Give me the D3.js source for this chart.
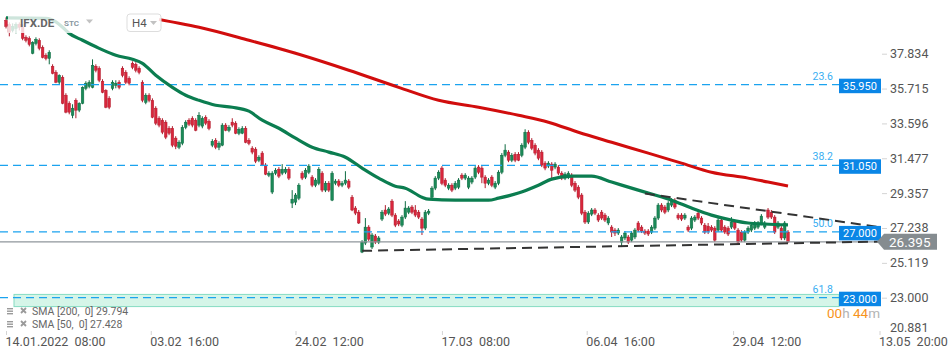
<!DOCTYPE html>
<html>
<head>
<meta charset="utf-8">
<script src="https://cdn.jsdelivr.net/npm/d3@7/dist/d3.min.js"></script>
<style>
  html, body { margin: 0; padding: 0; background: #fff; }
  svg { display: block; font-family: Roboto, "Noto Sans", sans-serif; }
</style>
</head>
<body>
<svg id="chart" width="949" height="358"></svg>
<script>
// IFX.DE H4 candles
const opens = [39.86,39.62,39.25,39.37,39.62,39.44,38.83,38.77,37.86,38.46,
  38.65,38.22,37.74,37.55,37.07,36.70,36.10,36.40,35.31,34.82,
  34.09,35.00,34.40,34.82,35.73,35.85,35.79,37.07,36.95,36.16,
  35.61,35.12,35.73,35.91,36.10,36.95,36.70,36.34,37.25,37.19,
  36.95,36.10,34.88,35.31,35.00,34.52,33.91,33.79,33.67,33.30,
  33.30,32.70,32.15,32.39,33.36,33.79,33.91,33.79,33.49,33.43,
  33.97,33.73,32.27,32.57,32.15,32.27,33.49,33.18,33.67,33.61,
  33.00,33.00,33.30,32.57,32.09,32.03,31.36,31.79,31.06,30.45,
  29.42,30.57,30.81,30.57,30.63,30.81,28.75,28.81,29.05,30.57,
  30.33,30.63,30.33,29.84,29.96,30.57,29.54,29.96,28.93,29.96,
  30.09,29.84,29.96,30.09,29.11,28.45,28.20,25.77,26.32,27.29,
  26.08,26.75,26.38,27.78,28.33,28.14,28.87,28.02,27.66,27.41,
  27.90,28.20,28.51,28.33,28.20,27.78,27.23,28.14,29.11,29.66,
  30.27,30.88,30.15,29.66,29.84,29.66,29.72,30.45,30.27,29.72,
  30.03,30.33,30.94,30.88,30.33,29.96,30.33,29.72,29.96,30.63,
  31.66,31.85,31.36,31.72,31.72,31.66,32.15,33.06,32.57,32.27,
  31.97,31.85,31.18,31.00,31.12,30.94,30.94,30.57,30.27,30.33,
  30.45,29.96,29.72,29.24,28.20,27.60,28.08,28.33,28.02,28.20,
  28.02,27.54,27.29,27.11,26.93,26.38,26.63,26.69,26.50,26.69,
  27.54,27.29,27.05,27.05,26.99,27.23,27.84,28.63,28.51,28.33,
  28.63,28.93,28.02,28.02,27.84,27.29,27.23,27.72,28.14,27.84,
  27.41,27.35,27.29,27.23,27.11,27.72,27.29,27.23,27.29,27.60,
  27.11,26.99,26.50,26.99,27.11,27.23,27.29,27.54,27.29,28.33,
  28.20,27.90,27.29,27.23,26.63,26.99];
const highs = [40.04,39.74,39.68,39.74,39.74,39.62,38.95,38.89,38.59,38.83,
  38.77,38.34,37.86,38.04,37.19,36.83,36.58,36.52,35.43,34.94,
  34.76,35.12,34.88,35.85,36.16,36.22,37.49,37.19,37.07,36.28,
  35.67,35.25,36.22,36.22,36.22,37.07,36.83,36.46,37.37,37.31,
  37.07,36.22,35.43,35.43,35.12,34.64,34.03,33.91,33.79,33.43,
  33.43,32.82,32.57,33.49,33.79,33.91,34.03,33.91,34.28,34.03,
  34.09,33.85,32.64,32.70,32.51,33.61,33.61,33.49,33.91,33.73,
  33.36,33.43,33.43,32.70,32.21,32.15,31.66,31.91,31.18,30.69,
  30.69,30.88,30.94,31.12,30.94,30.94,29.54,29.36,29.96,30.69,
  30.88,31.12,30.45,30.27,30.94,30.69,30.09,30.09,30.69,30.21,
  30.21,30.09,30.69,30.21,29.24,28.57,28.33,26.50,27.84,27.41,
  26.93,26.87,26.75,28.33,28.63,28.51,28.99,28.14,27.78,28.02,
  28.87,28.57,28.63,28.63,28.33,27.90,28.33,28.39,29.78,30.39,
  30.75,31.00,30.27,29.96,29.96,30.09,30.27,30.57,30.57,30.39,
  30.39,31.00,31.06,31.00,30.45,30.27,30.45,30.09,30.75,31.79,
  32.33,31.97,31.79,31.85,31.85,32.39,33.24,33.18,32.70,32.39,
  32.09,31.97,31.30,31.30,31.24,31.24,31.06,30.69,30.63,30.69,
  30.57,30.09,29.84,29.36,28.33,28.26,28.45,28.45,28.14,28.33,
  28.14,27.96,27.41,27.23,27.23,26.81,27.05,26.81,27.05,27.23,
  27.66,27.41,27.17,27.17,27.41,27.96,28.75,28.75,28.63,28.87,
  29.05,29.05,28.14,28.14,28.14,27.41,27.96,28.02,28.26,27.96,
  27.54,27.54,27.41,27.35,27.84,27.84,27.41,27.35,27.90,27.72,
  27.23,27.11,27.11,27.35,27.54,27.66,27.66,28.08,27.66,28.45,
  28.33,28.02,27.66,27.35,27.66,27.11];
const lows = [39.37,38.89,39.13,39.07,39.25,38.65,38.52,38.28,37.80,38.34,
  38.04,37.55,37.43,37.19,36.58,36.04,35.98,34.76,34.21,34.15,
  33.91,33.91,34.28,34.76,35.61,35.73,35.73,36.70,36.10,35.43,
  34.52,34.46,35.61,35.73,35.67,36.40,35.98,35.91,36.89,36.70,
  36.58,34.88,34.76,34.88,33.91,33.49,33.36,32.94,32.64,32.88,
  32.15,32.03,32.03,32.27,33.24,33.43,33.36,33.12,33.36,33.30,
  33.49,33.18,32.15,32.03,31.97,32.21,33.12,33.06,33.36,32.94,
  32.88,32.94,32.39,32.27,31.72,31.18,31.24,31.00,30.45,30.33,
  29.30,30.45,30.27,30.45,30.51,30.15,28.45,28.63,28.93,30.15,
  30.21,30.51,29.72,29.72,29.84,29.42,29.42,29.42,28.87,29.84,
  29.72,29.72,29.84,29.60,28.26,28.02,27.48,25.71,26.20,26.44,
  25.96,26.26,26.26,27.66,27.96,28.02,27.90,27.29,27.35,27.29,
  27.78,28.08,28.08,27.90,27.78,26.81,27.11,28.02,28.99,29.54,
  30.15,29.84,29.72,29.54,29.42,29.54,29.60,30.15,30.15,29.60,
  29.90,30.21,30.51,29.96,29.66,29.84,29.72,29.60,29.84,30.51,
  31.54,31.24,31.24,31.24,31.30,31.54,32.03,32.33,31.97,31.66,
  31.36,30.94,30.75,30.88,30.15,30.81,30.45,30.15,30.15,30.21,
  29.72,29.42,28.99,28.02,27.48,27.48,27.96,28.02,27.60,27.72,
  27.60,27.41,26.69,26.75,26.81,26.08,26.50,26.26,26.38,26.56,
  26.99,26.93,26.81,26.75,26.87,27.11,27.72,28.20,28.08,28.20,
  28.51,28.39,27.72,27.66,27.72,26.99,27.11,27.60,27.72,27.41,
  26.87,26.87,26.99,26.38,26.99,26.99,26.87,26.75,27.17,27.11,
  26.26,26.38,26.38,26.87,26.99,27.11,27.17,27.41,27.17,27.78,
  27.78,26.87,27.17,26.50,26.50,26.32];
const closes = [39.50,39.13,39.50,39.62,39.44,38.77,38.65,38.40,38.52,38.71,
  38.16,37.61,37.55,37.92,36.64,36.10,36.52,34.82,34.28,34.28,
  34.52,34.40,34.82,35.79,36.04,36.10,37.13,36.83,36.22,35.49,
  34.58,34.58,36.10,36.04,35.79,36.52,36.10,36.04,37.01,36.83,
  36.70,35.00,35.31,35.00,33.97,33.61,33.49,33.06,32.76,33.00,
  32.27,32.21,32.45,33.36,33.67,33.55,33.49,33.18,34.09,33.91,
  33.61,33.30,32.51,32.15,32.39,33.49,33.18,33.36,33.49,33.00,
  33.24,33.30,32.45,32.39,31.85,31.30,31.54,31.06,30.51,30.57,
  30.57,30.75,30.39,30.81,30.81,30.27,28.99,29.24,29.84,30.27,
  30.75,31.00,29.84,30.15,30.81,29.54,29.96,29.54,30.57,30.09,
  29.84,29.96,30.15,29.72,28.33,28.14,27.54,26.38,27.29,26.56,
  26.81,26.38,26.63,28.20,28.08,28.39,28.02,27.41,27.48,27.90,
  28.45,28.45,28.20,28.02,27.90,27.23,28.20,28.26,29.66,30.27,
  30.63,29.96,29.84,29.84,29.54,29.96,30.15,30.27,30.45,30.27,
  30.27,30.88,30.63,30.33,29.96,30.15,29.84,29.96,30.63,31.66,
  31.97,31.36,31.66,31.36,31.36,32.27,33.06,32.45,32.09,31.79,
  31.48,31.06,30.88,31.18,30.75,31.12,30.57,30.27,30.51,30.57,
  29.84,29.54,29.11,28.14,27.60,28.14,28.33,28.14,27.72,27.84,
  27.72,27.84,26.99,26.93,27.11,26.69,26.93,26.38,26.93,27.11,
  27.11,27.05,26.93,26.87,27.29,27.84,28.63,28.33,28.20,28.75,
  28.93,28.51,27.84,27.78,28.02,27.11,27.84,27.90,27.84,27.54,
  26.99,27.05,27.11,26.50,27.72,27.11,26.99,26.87,27.60,27.23,
  26.38,26.50,26.99,27.23,27.41,27.54,27.54,27.96,27.54,27.90,
  27.90,26.99,27.54,26.63,27.54,26.395];

// moving averages, sampled as [bar index, value]
const sma200 = [[46,39.92],[49,39.80],[58,39.44],[73,38.65],[88,37.80],[103,36.83],
  [118,35.79],[130,35.00],[142,34.58],[154,34.09],[163,33.67],[172,33.06],[182,32.45],
  [193,31.79],[203,31.18],[212,30.63],[223,30.27],[229,30.03],[235,29.794]];
const sma50 = [[0,40.01],[12,39.98],[15,39.77],[17,39.44],[19,39.07],[23,38.65],[28,38.16],
  [33,37.74],[38,37.49],[41,37.25],[45,36.52],[50,35.79],[54,35.31],[58,35.00],[63,34.70],
  [68,34.58],[73,34.34],[77,33.79],[82,33.30],[87,32.70],[92,32.15],[97,31.85],[102,31.54],
  [107,30.88],[112,30.27],[117,29.78],[120,29.66],[125,29.11],[127,28.99],[135,28.93],
  [145,28.93],[148,29.05],[154,29.36],[160,29.84],[164,30.21],[170,30.39],[176,30.39],
  [182,30.03],[188,29.66],[194,29.30],[200,28.93],[206,28.45],[212,28.02],[218,27.72],
  [223,27.54],[228,27.48],[235,27.428]];

const fibValues = [35.95, 31.05, 27.0, 23.0];
const fibLabels = ["23.6", "38.2", "50.0", "61.8"];
const lastPrice = 26.395;
const zone = [22.46, 23.2];
const trendLines = [
  [[192, 29.33], [262.6, 27.29]],
  [[107, 25.85], [262.6, 26.41]]
];
const yTicks = [20.881, 23.000, 25.119, 27.238, 29.357, 31.477, 33.596, 35.715, 37.834];
const xTickIdx = [0, 43.5, 87, 131, 174.5, 218.5, 262.5];
const xTickLabels = ["14.01.2022  08:00", "03.02  16:00", "24.02  12:00", "17.03  08:00",
  "06.04  16:00", "29.04  12:00", "13.05  20:00"];
const legendRows = ["SMA [200,  0] 29.794", "SMA [50,  0] 27.428"];

const svg = d3.select("#chart");
const x = d3.scaleLinear().domain([0, opens.length - 1]).range([6, 788]);
const y = d3.scaleLinear().domain([23, 37.834]).range([297.7, 53.7]);

const RED = "#d9263c", RED_D = "#b01c2d", GREEN = "#1b8a58", GREEN_D = "#0e6b42";

// support zone
svg.append("rect")
  .attr("x", 14).attr("width", 825)
  .attr("y", y(zone[1])).attr("height", y(zone[0]) - y(zone[1]))
  .attr("fill", "#d5f5e8").attr("stroke", "#86dcc2").attr("stroke-width", 1);

// candles
const candles = svg.append("g");
opens.forEach((o, i) => {
  const c = closes[i], up = c >= o;
  candles.append("line")
    .attr("x1", x(i)).attr("x2", x(i))
    .attr("y1", y(highs[i])).attr("y2", y(lows[i]))
    .attr("stroke", up ? GREEN_D : RED_D).attr("stroke-width", 1);
  const top = y(Math.max(o, c)), bot = y(Math.min(o, c));
  candles.append("rect")
    .attr("x", x(i) - 1.3).attr("width", 2.6)
    .attr("y", top).attr("height", Math.max(1, bot - top))
    .attr("fill", up ? GREEN : RED)
    .attr("stroke", up ? GREEN_D : RED_D).attr("stroke-width", 0.5);
});

// last price line
svg.append("line")
  .attr("x1", 0).attr("x2", 877)
  .attr("y1", y(lastPrice)).attr("y2", y(lastPrice))
  .attr("stroke", "#8f969b").attr("stroke-width", 1.2);

// fibonacci levels
fibValues.forEach((v, i) => {
  svg.append("line")
    .attr("x1", 0).attr("x2", 839)
    .attr("y1", y(v)).attr("y2", y(v))
    .attr("stroke", "#1ba3ef").attr("stroke-width", 1.3)
    .attr("stroke-dasharray", "8,5");
  svg.append("text")
    .attr("x", 833).attr("y", y(v) - 5)
    .attr("text-anchor", "end")
    .attr("font-size", 10.5).attr("fill", "#3aaef2")
    .text(fibLabels[i]);
});

// moving averages
const line = d3.line().x(d => x(d[0])).y(d => y(d[1])).curve(d3.curveMonotoneX);
svg.append("path").datum(sma200).attr("d", line)
  .attr("fill", "none").attr("stroke", "#d10d0d").attr("stroke-width", 3);
svg.append("path").datum(sma50).attr("d", line)
  .attr("fill", "none").attr("stroke", "#0b7d50").attr("stroke-width", 3.2);

// trend lines
trendLines.forEach(t => {
  svg.append("line")
    .attr("x1", x(t[0][0])).attr("y1", y(t[0][1]))
    .attr("x2", x(t[1][0])).attr("y2", y(t[1][1]))
    .attr("stroke", "#333").attr("stroke-width", 2)
    .attr("stroke-dasharray", "10,6");
});

// level boxes
fibValues.forEach(v => {
  svg.append("rect")
    .attr("x", 839).attr("y", y(v) - 6).attr("width", 42).attr("height", 14.5)
    .attr("fill", "#0a86e6");
  svg.append("text")
    .attr("x", 860).attr("y", y(v) + 5)
    .attr("text-anchor", "middle")
    .attr("font-size", 11).attr("fill", "#fff")
    .text(d3.format(".3f")(v));
});

// y axis
const yAxis = svg.append("g").attr("transform", "translate(882,0)")
  .call(d3.axisRight(y).tickValues(yTicks).tickFormat(d3.format(".3f")).tickSize(5).tickPadding(3));
yAxis.attr("font-family", "Roboto").attr("font-size", 12.5);
yAxis.select(".domain").remove();
yAxis.selectAll(".tick line").attr("stroke", "#d4d4d4");
yAxis.selectAll(".tick text").attr("fill", "#555");
const lowTick = yAxis.selectAll(".tick").filter(d => d < 21);
lowTick.select("line").remove();
lowTick.select("text").attr("y", -5.5);

// x axis
const xAxis = svg.append("g").attr("transform", "translate(0,331)")
  .call(d3.axisBottom(x).tickValues(xTickIdx).tickFormat((d, i) => xTickLabels[i]).tickSize(4).tickPadding(2));
xAxis.attr("font-family", "Roboto").attr("font-size", 12.5);
xAxis.select(".domain").remove();
xAxis.selectAll(".tick line").attr("stroke", "#d4d4d4");
xAxis.selectAll(".tick text")
  .attr("text-anchor", "start").attr("x", -1)
  .attr("fill", "#555").style("white-space", "pre");

// last price tag
const ly = y(lastPrice);
svg.append("path")
  .attr("d", `M877,${ly} L884,${ly - 8} L937,${ly - 8} L937,${ly + 8} L884,${ly + 8} Z`)
  .attr("fill", "#858c90");
svg.append("text")
  .attr("x", 889).attr("y", ly + 5)
  .attr("font-size", 13.5).attr("fill", "#fff")
  .text(d3.format(".3f")(lastPrice));

// countdown
const cd = svg.append("text")
  .attr("x", 880).attr("y", 318).attr("text-anchor", "end").attr("font-size", 13.5);
cd.append("tspan").attr("fill", "#f7941d").text("00");
cd.append("tspan").attr("fill", "#b3b3b3").text("h ");
cd.append("tspan").attr("fill", "#f7941d").text("44");
cd.append("tspan").attr("fill", "#b3b3b3").text("m");

// legend
legendRows.forEach((t, i) => {
  const ry = 311.5 + i * 13;
  const g = svg.append("g").attr("fill", "#9a9a9a");
  [-3.5, -1, 1.5].forEach(o => g.append("rect").attr("x", 7).attr("y", ry + o).attr("width", 6).attr("height", 1.4));
  svg.append("path")
    .attr("d", `M21,${ry - 3.5} L26,${ry + 1.5} M26,${ry - 3.5} L21,${ry + 1.5}`)
    .attr("stroke", "#9a9a9a").attr("stroke-width", 1.8);
  svg.append("text")
    .attr("x", 32).attr("y", ry + 3.5)
    .attr("font-size", 10.5).attr("fill", "#666")
    .style("white-space", "pre")
    .text(t);
});

// header
svg.append("rect").attr("x", 8).attr("y", 11).attr("width", 92).attr("height", 22)
  .attr("fill", "#fff").attr("opacity", 0.8);
svg.append("text").attr("x", 20).attr("y", 26.5)
  .attr("font-size", 11.5).attr("font-weight", 700).attr("fill", "#666")
  .text("IFX.DE");
svg.append("text").attr("x", 64).attr("y", 26)
  .attr("font-size", 8).attr("font-weight", 700).attr("fill", "#8a98a2")
  .text("STC");
svg.append("path").attr("d", "M86,19.5 L93,19.5 L89.5,23.5 Z").attr("fill", "#c2c2c2");
svg.append("rect").attr("x", 127).attr("y", 14).attr("width", 34).attr("height", 17.5)
  .attr("rx", 3).attr("fill", "#fff").attr("fill-opacity", 0.85)
  .attr("stroke", "#dddddd");
svg.append("text").attr("x", 132).attr("y", 27)
  .attr("font-size", 11.5).attr("fill", "#555")
  .text("H4");
svg.append("path").attr("d", "M150,21 L157,21 L153.5,25 Z").attr("fill", "#c2c2c2");
</script>
</body>
</html>
